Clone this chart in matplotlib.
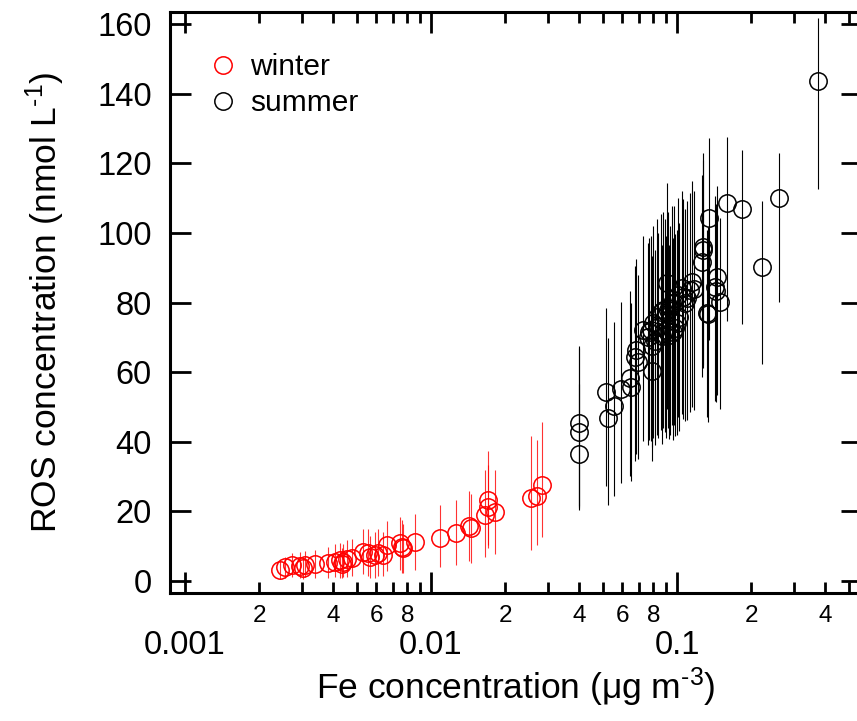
import matplotlib
matplotlib.use("Agg")
import matplotlib.pyplot as plt
from matplotlib.lines import Line2D
from matplotlib.ticker import FixedLocator, FixedFormatter

plt.rcParams['font.family'] = ['Liberation Sans', 'DejaVu Sans']
plt.rcParams['mathtext.fontset'] = 'custom'
plt.rcParams['mathtext.rm'] = 'Liberation Sans'
plt.rcParams['mathtext.it'] = 'Liberation Sans:italic'

# winter samples: Fe (ug m-3), ROS (nmol L-1), lower / upper error
winter_fe = [0.00243, 0.00255, 0.00272, 0.00294, 0.00301, 0.00306, 0.00337,
             0.00381, 0.00407, 0.00425, 0.00434, 0.00440, 0.00454, 0.00476,
             0.00531, 0.00556, 0.00565, 0.00592, 0.00608, 0.00640, 0.00660,
             0.00748, 0.00760, 0.00768, 0.00860, 0.0109, 0.01265, 0.0142,
             0.0146, 0.0166, 0.0171, 0.0171, 0.0182, 0.0256, 0.0269, 0.0282]
winter_ros = [3.2, 3.9, 4.6, 4.3, 3.6, 4.6, 4.9, 5.3, 5.6, 6.0, 4.9, 5.6,
              6.2, 6.5, 8.4, 8.0, 7.0, 7.5, 8.0, 7.5, 10.3, 10.8, 9.9, 9.4,
              11.3, 12.4, 13.7, 15.8, 15.1, 19.0, 23.3, 21.4, 19.9, 23.8,
              24.4, 27.6]
winter_lo = [2.5, 3.0, 3.5, 3.5, 3.0, 3.5, 4.0, 4.5, 4.5, 5.0, 4.0, 4.5,
             5.0, 5.0, 6.5, 6.5, 6.0, 6.5, 6.5, 6.0, 7.5, 7.5, 7.5, 7.0,
             8.0, 8.5, 9.0, 10.0, 10.0, 12.0, 13.0, 12.0, 12.0, 15.0,
             14.0, 15.0]
winter_hi = [2.5, 3.0, 3.5, 4.0, 3.0, 4.0, 4.0, 4.5, 5.0, 5.0, 4.5, 5.0,
             5.5, 5.5, 6.5, 7.0, 6.0, 6.5, 7.0, 6.5, 7.0, 7.5, 7.5, 7.0,
             8.0, 9.5, 9.5, 10.0, 10.0, 13.0, 14.0, 12.0, 12.0, 18.0,
             16.0, 18.0]

# summer samples
summer_fe = [0.0400, 0.0400, 0.0400, 0.0513, 0.0522, 0.0555, 0.0591, 0.0644,
             0.0652, 0.0675, 0.0692, 0.0684, 0.0789, 0.0730, 0.0760, 0.0770,
             0.0780, 0.0790, 0.0800, 0.0810, 0.0830, 0.0840, 0.0860, 0.0870,
             0.0880, 0.0890, 0.0900, 0.0908, 0.0920, 0.0930, 0.0940, 0.0950,
             0.0960, 0.0970, 0.0980, 0.1000, 0.1010, 0.1020, 0.1045, 0.1060,
             0.1080, 0.1100, 0.1130, 0.1150, 0.1170, 0.1260, 0.1270, 0.1280,
             0.1320, 0.1330, 0.1350, 0.1430, 0.1440, 0.1450, 0.1490, 0.1600,
             0.1830, 0.2220, 0.2600, 0.3730]
summer_ros = [45.5, 42.9, 36.5, 54.4, 46.8, 50.3, 55.1, 58.2,
              55.8, 64.4, 63.0, 66.4, 60.4, 72.1, 70.2, 71.5,
              72.1, 67.5, 74.0, 69.0, 75.9, 73.1, 77.4, 70.5,
              78.0, 75.9, 72.0, 85.5, 77.9, 70.7, 75.0, 79.8,
              71.5, 79.8, 72.6, 74.0, 82.2, 76.0, 84.1, 81.7,
              80.0, 81.2, 83.6, 86.0, 84.0, 91.6, 95.1, 96.1,
              77.0, 76.7, 104.4, 84.6, 83.4, 87.4, 80.3, 108.7,
              106.8, 90.3, 110.1, 143.7]
summer_lo = [24, 22, 16, 27, 25, 26, 27, 28,
             27, 30, 28, 30, 26, 32, 31, 31,
             32, 29, 33, 30, 34, 32, 34, 31,
             34, 33, 31, 36, 34, 30, 33, 35,
             31, 35, 31, 32, 35, 33, 36, 35,
             34, 35, 35, 36, 35, 33, 34, 34,
             30, 31, 35, 33, 32, 34, 31, 34,
             33, 28, 30, 31]
summer_hi = [22, 24, 20, 24, 23, 24, 25, 25,
             24, 26, 25, 26, 24, 27, 27, 27,
             27, 26, 28, 26, 28, 27, 28, 26,
             28, 28, 27, 29, 28, 26, 27, 28,
             27, 28, 27, 27, 28, 27, 28, 28,
             27, 28, 28, 29, 28, 25, 26, 27,
             24, 25, 23, 26, 25, 26, 24, 19,
             17, 19, 13, 18]

major_x = [0.001, 0.01, 0.1]
major_x_labels = ['0.001', '0.01', '0.1']
minor_x = [m * d for d in major_x for m in range(2, 10)]
minor_x_labels = [str(m) if m % 2 == 0 else '' for d in major_x for m in range(2, 10)]

fig = plt.figure(figsize=(8.57, 7.21), dpi=100)
ax = fig.add_axes([0.1984, 0.1775, 0.8075, 0.8058])

ax.errorbar(summer_fe, summer_ros, yerr=[summer_lo, summer_hi], fmt='o',
            ms=12.5, mfc='none', mec='black', mew=1.1, ecolor='black',
            elinewidth=0.8, capsize=0)
ax.errorbar(winter_fe, winter_ros, yerr=[winter_lo, winter_hi], fmt='o',
            ms=12.5, mfc='none', mec='red', mew=1.1, ecolor=(1, 0, 0, 0.8),
            elinewidth=0.8, capsize=0)

ax.set_xscale('log')
ax.set_xlim(0.000869, 0.565)
ax.set_ylim(-3.45, 163.5)

ax.xaxis.set_major_locator(FixedLocator(major_x))
ax.xaxis.set_major_formatter(FixedFormatter(major_x_labels))
ax.xaxis.set_minor_locator(FixedLocator(minor_x))
ax.xaxis.set_minor_formatter(FixedFormatter(minor_x_labels))
ax.set_yticks(range(0, 161, 20))

for sp in ax.spines.values():
    sp.set_linewidth(2.2)

ax.tick_params(which='both', direction='in', top=True, right=True, width=2)
ax.tick_params(which='major', length=15, labelsize=23.5)
ax.tick_params(axis='x', which='major', pad=26.6)
ax.tick_params(axis='x', which='minor', length=8, labelsize=17.5, pad=8.6)
ax.tick_params(axis='y', which='major', pad=13)

ax.set_xlabel(r'Fe concentration (μg m$^{\text{-}3}$)', fontsize=25.5, labelpad=3)
ax.set_ylabel(r'ROS concentration (nmol L$^{\text{-}1}$)', fontsize=25.5, labelpad=22)

handles = [
    Line2D([], [], marker='o', ls='none', ms=12.5, mfc='none', mec='red', mew=1.1),
    Line2D([], [], marker='o', ls='none', ms=12.5, mfc='none', mec='black', mew=1.1),
]
ax.legend(handles, ['winter', 'summer'], loc='upper left',
          bbox_to_anchor=(0.055, 0.929), frameon=False, fontsize=21.5,
          handlelength=1.0, handletextpad=0.4, labelspacing=0.27,
          borderpad=0, borderaxespad=0)

fig.savefig('out.png', dpi=100)
